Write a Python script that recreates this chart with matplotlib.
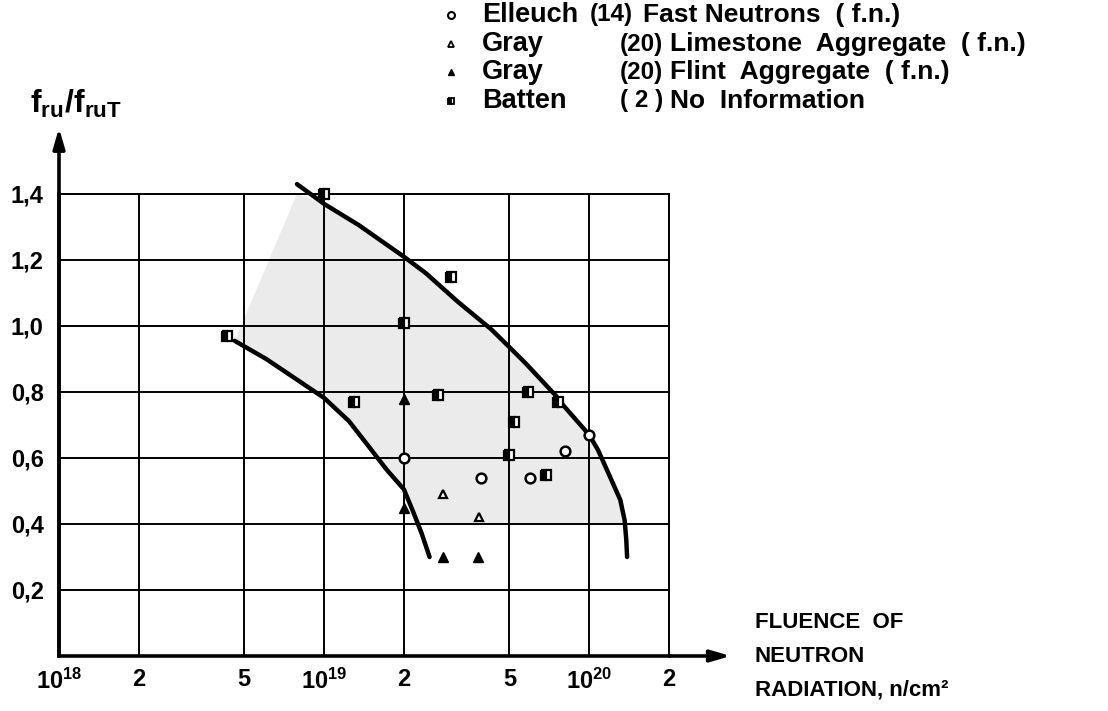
import matplotlib
matplotlib.use('Agg')

import matplotlib.pyplot as plt
from matplotlib.lines import Line2D

plt.rcParams['font.family'] = ['Liberation Sans', 'DejaVu Sans']
plt.rcParams['font.weight'] = 'bold'
plt.rcParams['mathtext.fontset'] = 'custom'
plt.rcParams['mathtext.rm'] = 'Liberation Sans:bold'
plt.rcParams['mathtext.bf'] = 'Liberation Sans:bold'
plt.rcParams['mathtext.it'] = 'Liberation Sans:bold'

# data
elleuch_x = [1.0e20, 8.1e19, 2.0e19, 3.9e19, 6.0e19]
elleuch_y = [0.67, 0.62, 0.60, 0.54, 0.54]

lime_x = [2.8e19, 3.85e19]
lime_y = [0.49, 0.42]

flint_x = [2.0e19, 2.0e19, 2.8e19, 3.8e19]
flint_y = [0.78, 0.45, 0.30, 0.30]

batten_x = [1.0e19, 3.0e19, 2.0e19, 4.3e18, 1.3e19, 2.7e19, 5.9e19, 7.6e19, 5.2e19, 5.0e19, 6.9e19]
batten_y = [1.40, 1.15, 1.01, 0.97, 0.77, 0.79, 0.80, 0.77, 0.71, 0.61, 0.55]

# envelope curves (upper/right and lower/left)
upper_x = [7.9e18, 1.0e19, 1.35e19, 2.0e19, 2.42e19, 3.2e19, 4.27e19, 5.0e19, 5.74e19, 6.6e19, 7.5e19,
           7.98e19, 1.0e20, 1.08e20, 1.18e20, 1.31e20, 1.36e20, 1.38e20, 1.39e20]
upper_y = [1.43, 1.37, 1.306, 1.21, 1.16, 1.073, 0.99, 0.936, 0.888, 0.836, 0.788,
           0.76, 0.67, 0.624, 0.555, 0.473, 0.412, 0.352, 0.30]

lower_x = [4.6e18, 6.05e18, 8.05e18, 1.0e19, 1.24e19, 1.48e19, 1.72e19, 2.0e19, 2.16e19, 2.33e19, 2.5e19]
lower_y = [0.955, 0.90, 0.833, 0.782, 0.712, 0.633, 0.565, 0.505, 0.44, 0.373, 0.30]

# outline of the stippled band
shade_x = [4.6e18, 6.05e18, 8.05e18, 1.0e19, 1.24e19, 1.48e19, 1.72e19, 2.0e19, 2.16e19, 2.22e19,
           1.37e20, 1.36e20, 1.31e20, 1.18e20, 1.08e20, 1.0e20, 7.98e19, 7.5e19, 6.6e19, 5.74e19,
           5.0e19, 4.27e19, 3.2e19, 2.42e19, 2.0e19, 1.35e19, 1.0e19, 7.9e18]
shade_y = [0.955, 0.90, 0.833, 0.782, 0.712, 0.633, 0.565, 0.505, 0.44, 0.40,
           0.40, 0.412, 0.473, 0.555, 0.624, 0.67, 0.76, 0.788, 0.836, 0.888,
           0.936, 0.99, 1.073, 1.16, 1.21, 1.306, 1.37, 1.40]

x_ticks = [1e18, 2e18, 5e18, 1e19, 2e19, 5e19, 1e20, 2e20]
x_labels = [r'$10^{18}$', '2', '5', r'$10^{19}$', '2', '5', r'$10^{20}$', '2']
y_ticks = [0.2, 0.4, 0.6, 0.8, 1.0, 1.2, 1.4]
y_labels = ['0,2', '0,4', '0,6', '0,8', '1,0', '1,2', '1,4']

legend_names = ['Elleuch', 'Gray', 'Gray', 'Batten']
legend_refs = ['(14)', '(20)', '(20)', '( 2 )']
legend_desc = ['Fast Neutrons  ( f.n.)', 'Limestone  Aggregate  ( f.n.)',
               'Flint  Aggregate  ( f.n.)', 'No  Information']

W, H = 1108, 711
fig = plt.figure(figsize=(W / 100, H / 100), dpi=100)
ax = fig.add_axes([59 / W, 55 / H, 610 / W, 462 / H])

ax.set_xscale('log')
ax.set_xlim(1e18, 2e20)
ax.set_ylim(0, 1.4)

# shaded scatter band
ax.fill(shade_x, shade_y, color='#ebebeb', lw=0, zorder=1)

# grid
for xv in x_ticks[1:]:
    ax.axvline(xv, color='black', lw=1.4, zorder=2)
for yv in y_ticks:
    ax.axhline(yv, color='black', lw=1.4, zorder=2)

for side in ['top', 'right']:
    ax.spines[side].set_linewidth(1.4)
for side in ['left', 'bottom']:
    ax.spines[side].set_linewidth(2.6)

ax.set_xticks(x_ticks)
ax.set_xticklabels(x_labels, fontsize=17, fontweight='bold')
ax.set_xticks([], minor=True)
ax.set_yticks(y_ticks)
ax.set_yticklabels(y_labels, fontsize=17, fontweight='bold')
ax.tick_params(length=0)
ax.tick_params(axis='x', pad=9)
ax.tick_params(axis='y', pad=11)

ax.plot(upper_x, upper_y, color='black', lw=3.2, solid_capstyle='round',
        solid_joinstyle='round', zorder=4, clip_on=False)
ax.plot(lower_x, lower_y, color='black', lw=3.2, solid_capstyle='round',
        solid_joinstyle='round', zorder=4, clip_on=False)

# data points
ax.plot(elleuch_x, elleuch_y, 'o', ms=7, mfc='white', mec='black', mew=1.8, zorder=5)
ax.plot(lime_x, lime_y, '^', ms=6, mfc='white', mec='black', mew=1.6, zorder=5)
ax.plot(flint_x, flint_y, '^', ms=6.5, color='black', zorder=5)
ax.plot(batten_x, batten_y, 's', ms=6.5, fillstyle='left', mfc='black',
        mfcalt='white', mec='black', mew=1.6, zorder=5, clip_on=False)

# axis arrows
ax.annotate('', xy=(1e18, 1.6), xytext=(1e18, 0), xycoords='data',
            annotation_clip=False,
            arrowprops=dict(arrowstyle='-|>,head_length=1.2,head_width=0.35',
                            color='black', lw=2.6, shrinkA=0, shrinkB=0))
ax.annotate('', xy=(3.42e20, 0), xytext=(2e20, 0), xycoords='data',
            annotation_clip=False,
            arrowprops=dict(arrowstyle='-|>,head_length=1.2,head_width=0.35',
                            color='black', lw=2.6, shrinkA=0, shrinkB=0))

# axis titles
fig.text(76 / W, 1 - 104 / H, r'$\mathregular{f_{ru}/f_{ruT}}$', fontsize=23,
         ha='center', va='center')
fig.text(755 / W, 1 - 656 / H, 'FLUENCE  OF\nNEUTRON\nRADIATION, n/cm²',
         fontsize=16, fontweight='bold', ha='left', va='center', linespacing=1.8)

# legend
row_y = [15, 44, 72, 101]
ref_x = [590, 620, 620, 620]
desc_x = [643, 670, 670, 670]
styles = [dict(marker='o', mfc='white', mec='black', mew=1.5, ms=5),
          dict(marker='^', mfc='white', mec='black', mew=1.3, ms=5),
          dict(marker='^', color='black', ms=5),
          dict(marker='s', fillstyle='left', mfc='black', mfcalt='white', mec='black', mew=1.3, ms=5)]
for i in range(4):
    yf = 1 - row_y[i] / H
    fig.add_artist(Line2D([451 / W], [yf], transform=fig.transFigure, ls='none', **styles[i]))
    fig.text(482 / W, yf, legend_names[i], fontsize=19.5, fontweight='bold', ha='left', va='center')
    fig.text(ref_x[i] / W, yf, legend_refs[i], fontsize=17.5, fontweight='bold', ha='left', va='center')
    fig.text(desc_x[i] / W, yf, legend_desc[i], fontsize=19, fontweight='bold', ha='left', va='center')

fig.savefig('out.png', dpi=100)
